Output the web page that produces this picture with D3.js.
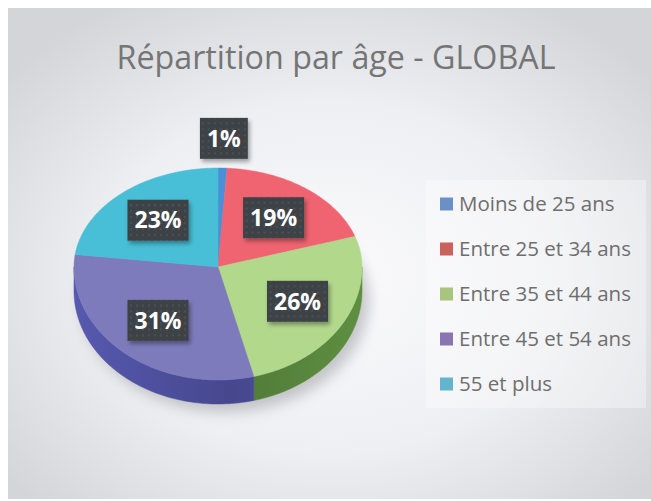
<!DOCTYPE html>
<html>
<head>
<meta charset="utf-8">
<script src="https://cdn.jsdelivr.net/npm/d3@7"></script>
<style>
  body { margin: 0; background: #ffffff; }
  svg { display: block; }
</style>
</head>
<body>
<div id="chart"></div>
<script>
    // data
    var categories = ["Moins de 25 ans", "Entre 25 et 34 ans", "Entre 35 et 44 ans", "Entre 45 et 54 ans", "55 et plus"];
    var values = [1, 19, 26, 31, 23];
    var topColors = ["#4a8fd8", "#ef6470", "#b2d88c", "#7d7bbb", "#48bfd6"];
    var sideColors = ["#2f65a8", "#b23a44", "#5b8a3f", "#4f51a0", "#2a8ea3"];
    var legendColors = ["#6d8fc7", "#c9625c", "#a9c47c", "#8b75b0", "#62b5cd"];
    var title = "Répartition par âge - GLOBAL";

    var svgWidth = 651;
    var svgHeight = 501;

    // pie geometry (pseudo 3D, front half a bit taller like a perspective view)
    var cx = 218, cy = 267;
    var rx = 144, ryTop = 99, ryBottom = 113;
    var depth = 24;

    var svg = d3.select("#chart")
        .append("svg")
        .attr("width", svgWidth)
        .attr("height", svgHeight);

    var defs = svg.append("defs");

    // background gradient
    var bg = defs.append("radialGradient")
        .attr("id", "bgGrad")
        .attr("cx", "50%").attr("cy", "55%").attr("r", "65%");
    bg.append("stop").attr("offset", "0%").attr("stop-color", "#fbfbfd");
    bg.append("stop").attr("offset", "55%").attr("stop-color", "#eeeff2");
    bg.append("stop").attr("offset", "100%").attr("stop-color", "#d3d5d9");

    var blur = defs.append("filter").attr("id", "shadowBlur")
        .attr("x", "-30%").attr("y", "-30%").attr("width", "160%").attr("height", "160%");
    blur.append("feGaussianBlur").attr("stdDeviation", 7);

    var boxShadow = defs.append("filter").attr("id", "boxShadow")
        .attr("x", "-20%").attr("y", "-20%").attr("width", "150%").attr("height", "160%");
    boxShadow.append("feDropShadow")
        .attr("dx", 2).attr("dy", 3).attr("stdDeviation", 2)
        .attr("flood-color", "#000").attr("flood-opacity", 0.35);

    // dotted pattern for the data label boxes
    var pat = defs.append("pattern").attr("id", "dots")
        .attr("width", 6).attr("height", 6).attr("patternUnits", "userSpaceOnUse");
    pat.append("rect").attr("width", 6).attr("height", 6).attr("fill", "#3e4246");
    pat.append("circle").attr("cx", 3).attr("cy", 3).attr("r", 0.9).attr("fill", "#53575c");

    // chart area
    svg.append("rect")
        .attr("x", 8).attr("y", 8)
        .attr("width", svgWidth - 8).attr("height", svgHeight - 10)
        .attr("fill", "url(#bgGrad)");

    // Title
    var titleText = svg.append("text")
        .attr("x", 336)
        .attr("y", 69)
        .attr("text-anchor", "middle")
        .style("font-family", "'Open Sans', sans-serif")
        .style("font-size", "30px")
        .attr("fill", "#757575")
        .text(title);
    var tw = titleText.node().getComputedTextLength();
    titleText.style("font-size", (30 * 439 / tw) + "px");

    // projection of a point of the unit disc onto the screen
    function project(angle, r, dy) {
        var u = Math.sin(angle) * r;
        var v = -Math.cos(angle) * r;
        return [cx + rx * u, cy + (v < 0 ? ryTop : ryBottom) * v + (dy || 0)];
    }

    function arcPoints(a0, a1, r, dy) {
        var n = Math.max(2, Math.ceil((a1 - a0) / 0.02));
        var pts = [];
        for (var i = 0; i <= n; i++) {
            pts.push(project(a0 + (a1 - a0) * i / n, r, dy));
        }
        return pts;
    }

    var line = d3.line();

    var pie = d3.pie().sort(null).value(d => d);
    var arcs = pie(values);

    // soft shadow under the pie
    var shadowPts = arcPoints(0, 2 * Math.PI, 1.0, depth + 8).map(p => [p[0] + 7, p[1]]);
    svg.append("path")
        .attr("d", line(shadowPts) + "Z")
        .attr("fill", "#9a9ca0")
        .attr("opacity", 0.55)
        .attr("filter", "url(#shadowBlur)");

    var pieGroup = svg.append("g");

    // side walls (front half only: angles PI/2 .. 3PI/2)
    arcs.forEach(function(d, i) {
        var a0 = Math.max(d.startAngle, Math.PI / 2);
        var a1 = Math.min(d.endAngle, 3 * Math.PI / 2);
        if (a1 <= a0) return;
        var top = arcPoints(a0, a1, 1, 0);
        var bottom = arcPoints(a0, a1, 1, depth).reverse();

        var gid = "side" + i;
        var g = defs.append("linearGradient").attr("id", gid)
            .attr("gradientUnits", "userSpaceOnUse")
            .attr("x1", cx - rx).attr("x2", cx + rx).attr("y1", 0).attr("y2", 0);
        var base = d3.color(sideColors[i]);
        g.append("stop").attr("offset", "0%").attr("stop-color", base.brighter(0.25));
        g.append("stop").attr("offset", "55%").attr("stop-color", base.darker(0.35));
        g.append("stop").attr("offset", "100%").attr("stop-color", base.brighter(0.1));

        pieGroup.append("path")
            .attr("d", line(top.concat(bottom)) + "Z")
            .attr("fill", "url(#" + gid + ")")
            .attr("stroke", "url(#" + gid + ")")
            .attr("stroke-width", 0.5);
    });

    // top faces
    arcs.forEach(function(d, i) {
        var pts = [[cx, cy]].concat(arcPoints(d.startAngle, d.endAngle, 1, 0));
        pieGroup.append("path")
            .attr("d", line(pts) + "Z")
            .attr("fill", topColors[i])
            .attr("stroke", topColors[i])
            .attr("stroke-width", 0.5)
            .attr("stroke-linejoin", "round");
    });

    // data labels
    var labelGroup = svg.append("g");
    arcs.forEach(function(d, i) {
        var mid = (d.startAngle + d.endAngle) / 2;
        var f = d.value < 5 ? 1.3 : 0.63;
        var p = project(mid, f, 0);
        var pct = Math.round(d.value / d3.sum(values) * 100) + "%";

        var lg = labelGroup.append("g").attr("transform", `translate(${p[0]}, ${p[1]})`);
        var rect = lg.append("rect").attr("fill", "url(#dots)").attr("filter", "url(#boxShadow)");
        var t = lg.append("text")
            .attr("text-anchor", "middle")
            .attr("dy", "0.36em")
            .style("font-family", "'Open Sans', sans-serif")
            .style("font-weight", "bold")
            .style("font-size", "23px")
            .attr("fill", "#ffffff")
            .text(pct);
        var w = t.node().getComputedTextLength() + 14;
        rect.attr("x", -w / 2).attr("y", -20.5).attr("width", w).attr("height", 41);
    });

    // Legend
    var legend = svg.append("g");
    legend.append("rect")
        .attr("x", 426).attr("y", 180)
        .attr("width", 220).attr("height", 228)
        .attr("fill", "#ffffff")
        .attr("opacity", 0.35);

    var legendY = d3.scalePoint()
        .domain(categories)
        .range([204, 384]);

    categories.forEach(function(c, i) {
        legend.append("rect")
            .attr("x", 440).attr("y", legendY(c) - 6.5)
            .attr("width", 13).attr("height", 13)
            .attr("fill", legendColors[i]);
        legend.append("text")
            .attr("x", 459).attr("y", legendY(c))
            .attr("dy", "0.36em")
            .style("font-family", "'Open Sans', sans-serif")
            .style("font-size", "20.5px")
            .attr("fill", "#6e6e6e")
            .text(c);
    });
</script>
</body>
</html>
